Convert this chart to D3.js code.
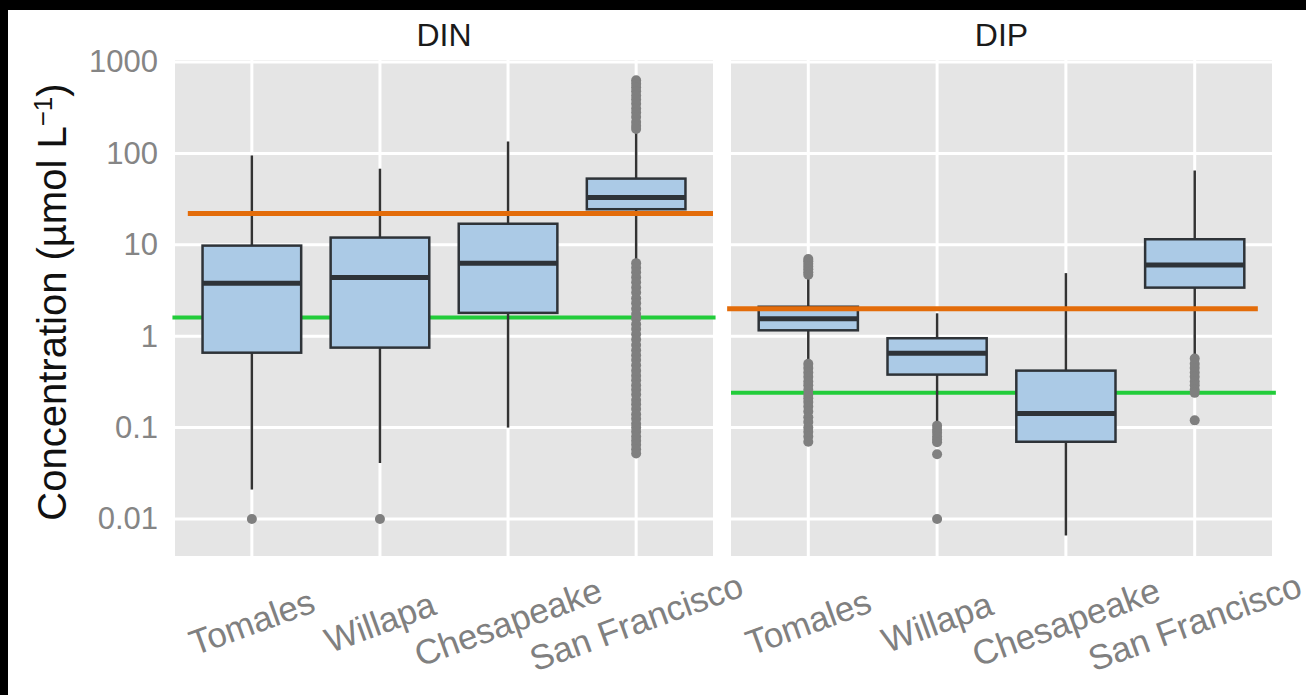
<!DOCTYPE html>
<html>
<head>
<meta charset="utf-8">
<script src="https://cdn.jsdelivr.net/npm/d3@7"></script>
<style>
  html, body { margin: 0; padding: 0; background: #ffffff; }
  svg { display: block; }
</style>
</head>
<body>
<svg id="chart" width="1306" height="695"></svg>
<script>
// ---------------- DATA ----------------
const categories = ["Tomales", "Willapa", "Chesapeake", "San Francisco"];
const facets = ["DIN", "DIP"];
const yTicks = [0.01, 0.1, 1, 10, 100, 1000];
const yTickLabels = ["0.01", "0.1", "1", "10", "100", "1000"];

// DIN box statistics (whisker low, Q1, median, Q3, whisker high)
const dinLow  = [0.021, 0.041, 0.10, 6.6];
const dinQ1   = [0.66, 0.75, 1.8, 24.5];
const dinMed  = [3.8, 4.4, 6.3, 33];
const dinQ3   = [9.8, 12.0, 17.0, 53];
const dinHigh = [95, 68, 135, 180];
const dinOutliers = [
  [0.01],
  [0.01],
  [],
  [630, 580, 530, 480, 430, 390, 350, 310, 280, 250, 220, 200, 185,
   6.3, 5.6, 5.0, 4.4, 3.9, 3.4, 3.0, 2.6, 2.3, 2.0, 1.75, 1.55, 1.35, 1.2, 1.05,
   0.92, 0.8, 0.7, 0.62, 0.55, 0.48, 0.42, 0.37, 0.33, 0.29, 0.26, 0.23, 0.2,
   0.18, 0.16, 0.14, 0.125, 0.11, 0.1, 0.09, 0.08, 0.072, 0.065, 0.058, 0.052]
];

// DIP box statistics
const dipLow  = [0.55, 0.11, 0.0066, 0.58];
const dipQ1   = [1.16, 0.38, 0.07, 3.4];
const dipMed  = [1.55, 0.65, 0.143, 6.0];
const dipQ3   = [2.1, 0.95, 0.42, 11.5];
const dipHigh = [4.5, 1.78, 4.9, 65];
const dipOutliers = [
  [7.0, 6.6, 6.2, 5.8, 5.4, 5.0, 4.7,
   0.5, 0.45, 0.4, 0.36, 0.32, 0.29, 0.26, 0.23, 0.21, 0.19, 0.17, 0.15, 0.13, 0.115, 0.1, 0.09, 0.08, 0.07],
  [0.105, 0.095, 0.088, 0.08, 0.074, 0.069, 0.051, 0.01],
  [],
  [0.57, 0.5, 0.45, 0.4, 0.36, 0.32, 0.29, 0.26, 0.24, 0.12]
];

// Reference lines (value, extent in category-index units)
const dinOrange = 22,  dinOrangeExtent = [-0.5, 3.6];
const dinGreen  = 1.6, dinGreenExtent  = [-0.62, 3.62];
const dipOrange = 2.0, dipOrangeExtent = [-0.63, 3.49];
const dipGreen  = 0.24, dipGreenExtent = [-0.6, 3.63];

// ---------------- LAYOUT ----------------
const svg = d3.select("#chart");
const W = 1306, H = 695;
const panelTop = 60, panelBottom = 556;
const panelX = { DIN: [175, 713], DIP: [731, 1272] };
const FONT = "'Liberation Sans', Arial, Helvetica, sans-serif";

svg.append("rect").attr("width", W).attr("height", H).attr("fill", "#ffffff");

const y = d3.scaleLog()
  .domain([Math.pow(10, -2.405), Math.pow(10, 3.022)])
  .range([panelBottom, panelTop]);

const facetData = {
  DIN: { low: dinLow, q1: dinQ1, med: dinMed, q3: dinQ3, high: dinHigh, out: dinOutliers,
         refs: [ {v: dinGreen, ext: dinGreenExtent, c: "#22cc3a"}, {v: dinOrange, ext: dinOrangeExtent, c: "#e36c0a"} ] },
  DIP: { low: dipLow, q1: dipQ1, med: dipMed, q3: dipQ3, high: dipHigh, out: dipOutliers,
         refs: [ {v: dipGreen, ext: dipGreenExtent, c: "#22cc3a"}, {v: dipOrange, ext: dipOrangeExtent, c: "#e36c0a"} ] }
};

facets.forEach(f => {
  const [x0, x1] = panelX[f];
  const x = d3.scalePoint().domain(categories).range([x0, x1]).padding(0.6);
  const step = x.step();
  const xi = u => x(categories[0]) + u * step;
  const bw = step * 0.77;
  const d = facetData[f];
  const g = svg.append("g");

  // panel background
  g.append("rect").attr("x", x0).attr("y", panelTop)
    .attr("width", x1 - x0).attr("height", panelBottom - panelTop)
    .attr("fill", "#e5e5e5");

  // gridlines
  g.selectAll(".hg").data(yTicks).enter().append("line")
    .attr("x1", x0).attr("x2", x1)
    .attr("y1", v => y(v)).attr("y2", v => y(v))
    .attr("stroke", "#ffffff").attr("stroke-width", 3);
  g.selectAll(".vg").data(categories).enter().append("line")
    .attr("x1", c => x(c)).attr("x2", c => x(c))
    .attr("y1", panelTop).attr("y2", panelBottom)
    .attr("stroke", "#ffffff").attr("stroke-width", 3);

  // green reference line (under boxes)
  const green = d.refs[0];
  g.append("line")
    .attr("x1", xi(green.ext[0])).attr("x2", xi(green.ext[1]))
    .attr("y1", y(green.v)).attr("y2", y(green.v))
    .attr("stroke", green.c).attr("stroke-width", 4);

  // boxes
  categories.forEach((c, i) => {
    const cx = x(c);
    // whiskers
    g.append("line").attr("x1", cx).attr("x2", cx)
      .attr("y1", y(d.q3[i])).attr("y2", y(d.high[i]))
      .attr("stroke", "#333333").attr("stroke-width", 2.5);
    g.append("line").attr("x1", cx).attr("x2", cx)
      .attr("y1", y(d.q1[i])).attr("y2", y(d.low[i]))
      .attr("stroke", "#333333").attr("stroke-width", 2.5);
    // box
    g.append("rect")
      .attr("x", cx - bw / 2).attr("width", bw)
      .attr("y", y(d.q3[i])).attr("height", y(d.q1[i]) - y(d.q3[i]))
      .attr("fill", "#abcae6").attr("stroke", "#2e3338").attr("stroke-width", 2.5);
    // median
    g.append("line").attr("x1", cx - bw / 2).attr("x2", cx + bw / 2)
      .attr("y1", y(d.med[i])).attr("y2", y(d.med[i]))
      .attr("stroke", "#2e3338").attr("stroke-width", 5);
    // outliers
    g.selectAll(null).data(d.out[i]).enter().append("circle")
      .attr("cx", cx).attr("cy", v => y(v)).attr("r", 5)
      .attr("fill", "#7f7f7f");
  });

  // orange reference line (on top)
  const orange = d.refs[1];
  g.append("line")
    .attr("x1", xi(orange.ext[0])).attr("x2", xi(orange.ext[1]))
    .attr("y1", y(orange.v)).attr("y2", y(orange.v))
    .attr("stroke", orange.c).attr("stroke-width", 5);

  // strip title
  svg.append("text").attr("x", (x0 + x1) / 2).attr("y", 46)
    .attr("text-anchor", "middle").attr("font-family", FONT).attr("font-size", 32)
    .attr("fill", "#1a1a1a").text(f);

  // x labels
  categories.forEach(c => {
    svg.append("text")
      .attr("transform", `translate(${x(c)},622) rotate(-20)`)
      .attr("text-anchor", "middle").attr("dy", "0.35em")
      .attr("font-family", FONT).attr("font-size", 35)
      .attr("fill", "#808080").text(c);
  });
});

// y axis tick labels
const yAxis = d3.axisLeft(y).tickValues(yTicks)
  .tickFormat((v, i) => yTickLabels[i]).tickSize(0).tickPadding(0);
const ya = svg.append("g").attr("transform", "translate(158,0)").call(yAxis);
ya.select(".domain").remove();
ya.selectAll("text").attr("font-family", FONT).attr("font-size", 31)
  .attr("fill", "#858585");

// y title
const yt = svg.append("text")
  .attr("transform", "translate(66,302) rotate(-90)")
  .attr("text-anchor", "middle")
  .attr("font-family", FONT).attr("font-size", 40).attr("fill", "#111111");
yt.append("tspan").text("Concentration (\u00b5mol L");
yt.append("tspan").attr("dy", -14).attr("font-size", 26).text("\u22121");
yt.append("tspan").attr("dy", 14).text(")");

// black frame at top and left edges
svg.append("rect").attr("x", 0).attr("y", 0).attr("width", W).attr("height", 10).attr("fill", "#000");
svg.append("rect").attr("x", 0).attr("y", 0).attr("width", 8).attr("height", H).attr("fill", "#000");
</script>
</body>
</html>
